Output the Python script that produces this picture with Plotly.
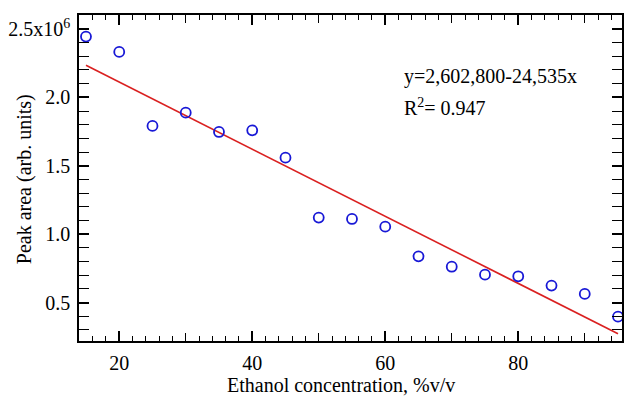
import plotly.graph_objects as go

# Ethanol concentration (%v/v) and measured peak area (arb. units)
ethanol = [15, 20, 25, 30, 35, 40, 45, 50, 55, 60, 65, 70, 75, 80, 85, 90, 95]
peak_area = [2444000, 2332000, 1791000, 1888000, 1747000, 1759000, 1559000,
             1121000, 1111000, 1055000, 838000, 762000, 704000, 692000,
             624000, 563000, 397000]

# Linear fit stated on the chart
intercept = 2602800
slope = -24535
r_squared = 0.947
fit_x = [15, 95]
fit_y = [intercept + slope * x for x in fit_x]

x_tickvals = [20, 40, 60, 80]
x_ticktext = ["20", "40", "60", "80"]
y_tickvals = [500000, 1000000, 1500000, 2000000, 2500000]
y_ticktext = ["0.5", "1.0", "1.5", "2.0", "2.5x10<sup>6</sup>"]

FONT = "Liberation Serif"
FS = 20
BLUE = "rgb(24,24,214)"
RED = "rgb(218,32,32)"

W, H = 624, 405
M_L, M_R, M_T, M_B = 79, 0, 15, 64
PLOT_W = W - M_L - M_R
PLOT_H = H - M_T - M_B
X_RANGE = [13.95, 95.6]

fig = go.Figure()
fig.add_trace(go.Scatter(
    x=fit_x, y=fit_y, mode="lines",
    line=dict(color=RED, width=1.6), showlegend=False, hoverinfo="skip",
))
fig.add_trace(go.Scatter(
    x=ethanol, y=peak_area, mode="markers",
    marker=dict(symbol="circle-open", size=10, color=BLUE,
                line=dict(color=BLUE, width=1.8)),
    showlegend=False, cliponaxis=False,
))
# empty trace so the overlaid tick axis is instantiated
fig.add_trace(go.Scatter(x=[], y=[], xaxis="x2", yaxis="y",
                         showlegend=False, hoverinfo="skip"))

axis_common = dict(
    showgrid=False, zeroline=False, showline=True, linecolor="black",
    linewidth=1.5, mirror="allticks", ticks="inside", tickcolor="black",
    tickwidth=1.5, tickfont=dict(family=FONT, size=FS, color="black"),
)

fig.update_layout(
    xaxis=dict(
        range=X_RANGE, tickmode="array", tickvals=x_tickvals,
        ticktext=x_ticktext, ticklen=10, ticklabelstandoff=3,
        minor=dict(dtick=2, tick0=0, ticks="inside", ticklen=5,
                   tickwidth=1.2, tickcolor="black", showgrid=False),
        **axis_common,
    ),
    # unlabeled mid-decade ticks (every 10) drawn on an overlaid axis
    xaxis2=dict(
        range=X_RANGE, overlaying="x", anchor="y", side="bottom",
        tickmode="linear", tick0=0, dtick=10, ticks="inside", ticklen=8,
        tickwidth=1.3, tickcolor="black", showticklabels=False,
        showline=False, mirror="allticks", showgrid=False, zeroline=False,
    ),
    yaxis=dict(
        range=[219000, 2602000], tickmode="array", tickvals=y_tickvals,
        ticktext=y_ticktext, ticklen=10, ticklabelstandoff=3,
        minor=dict(dtick=100000, tick0=0, ticks="inside", ticklen=6,
                   tickwidth=1.2, tickcolor="black", showgrid=False),
        **axis_common,
    ),
)

# Text placed by pixel position on the page, converted to plot-area fractions
annotations = [
    dict(text="Ethanol concentration, %v/v", px=342, py=385),
    dict(text="Peak area (arb. units)", textangle=-90, px=24, py=179),
    dict(text=f"y={intercept:,}-{abs(slope):,}x", px=403, py=76,
         xanchor="left"),
    dict(text=f"R<sup>2</sup>= {r_squared}", px=403, py=107,
         xanchor="left"),
]
for a in annotations:
    fig.add_annotation(
        text=a["text"],
        x=(a["px"] - M_L) / PLOT_W,
        y=(H - M_B - a["py"]) / PLOT_H,
        xref="paper", yref="paper", showarrow=False,
        xanchor=a.get("xanchor", "center"), yanchor="middle",
        textangle=a.get("textangle", 0),
        font=dict(family=FONT, size=FS, color="black"),
    )

fig.update_layout(
    width=W, height=H,
    margin=dict(l=M_L, r=M_R, t=M_T, b=M_B),
    paper_bgcolor="white", plot_bgcolor="white",
)

fig.write_html("out.html")
